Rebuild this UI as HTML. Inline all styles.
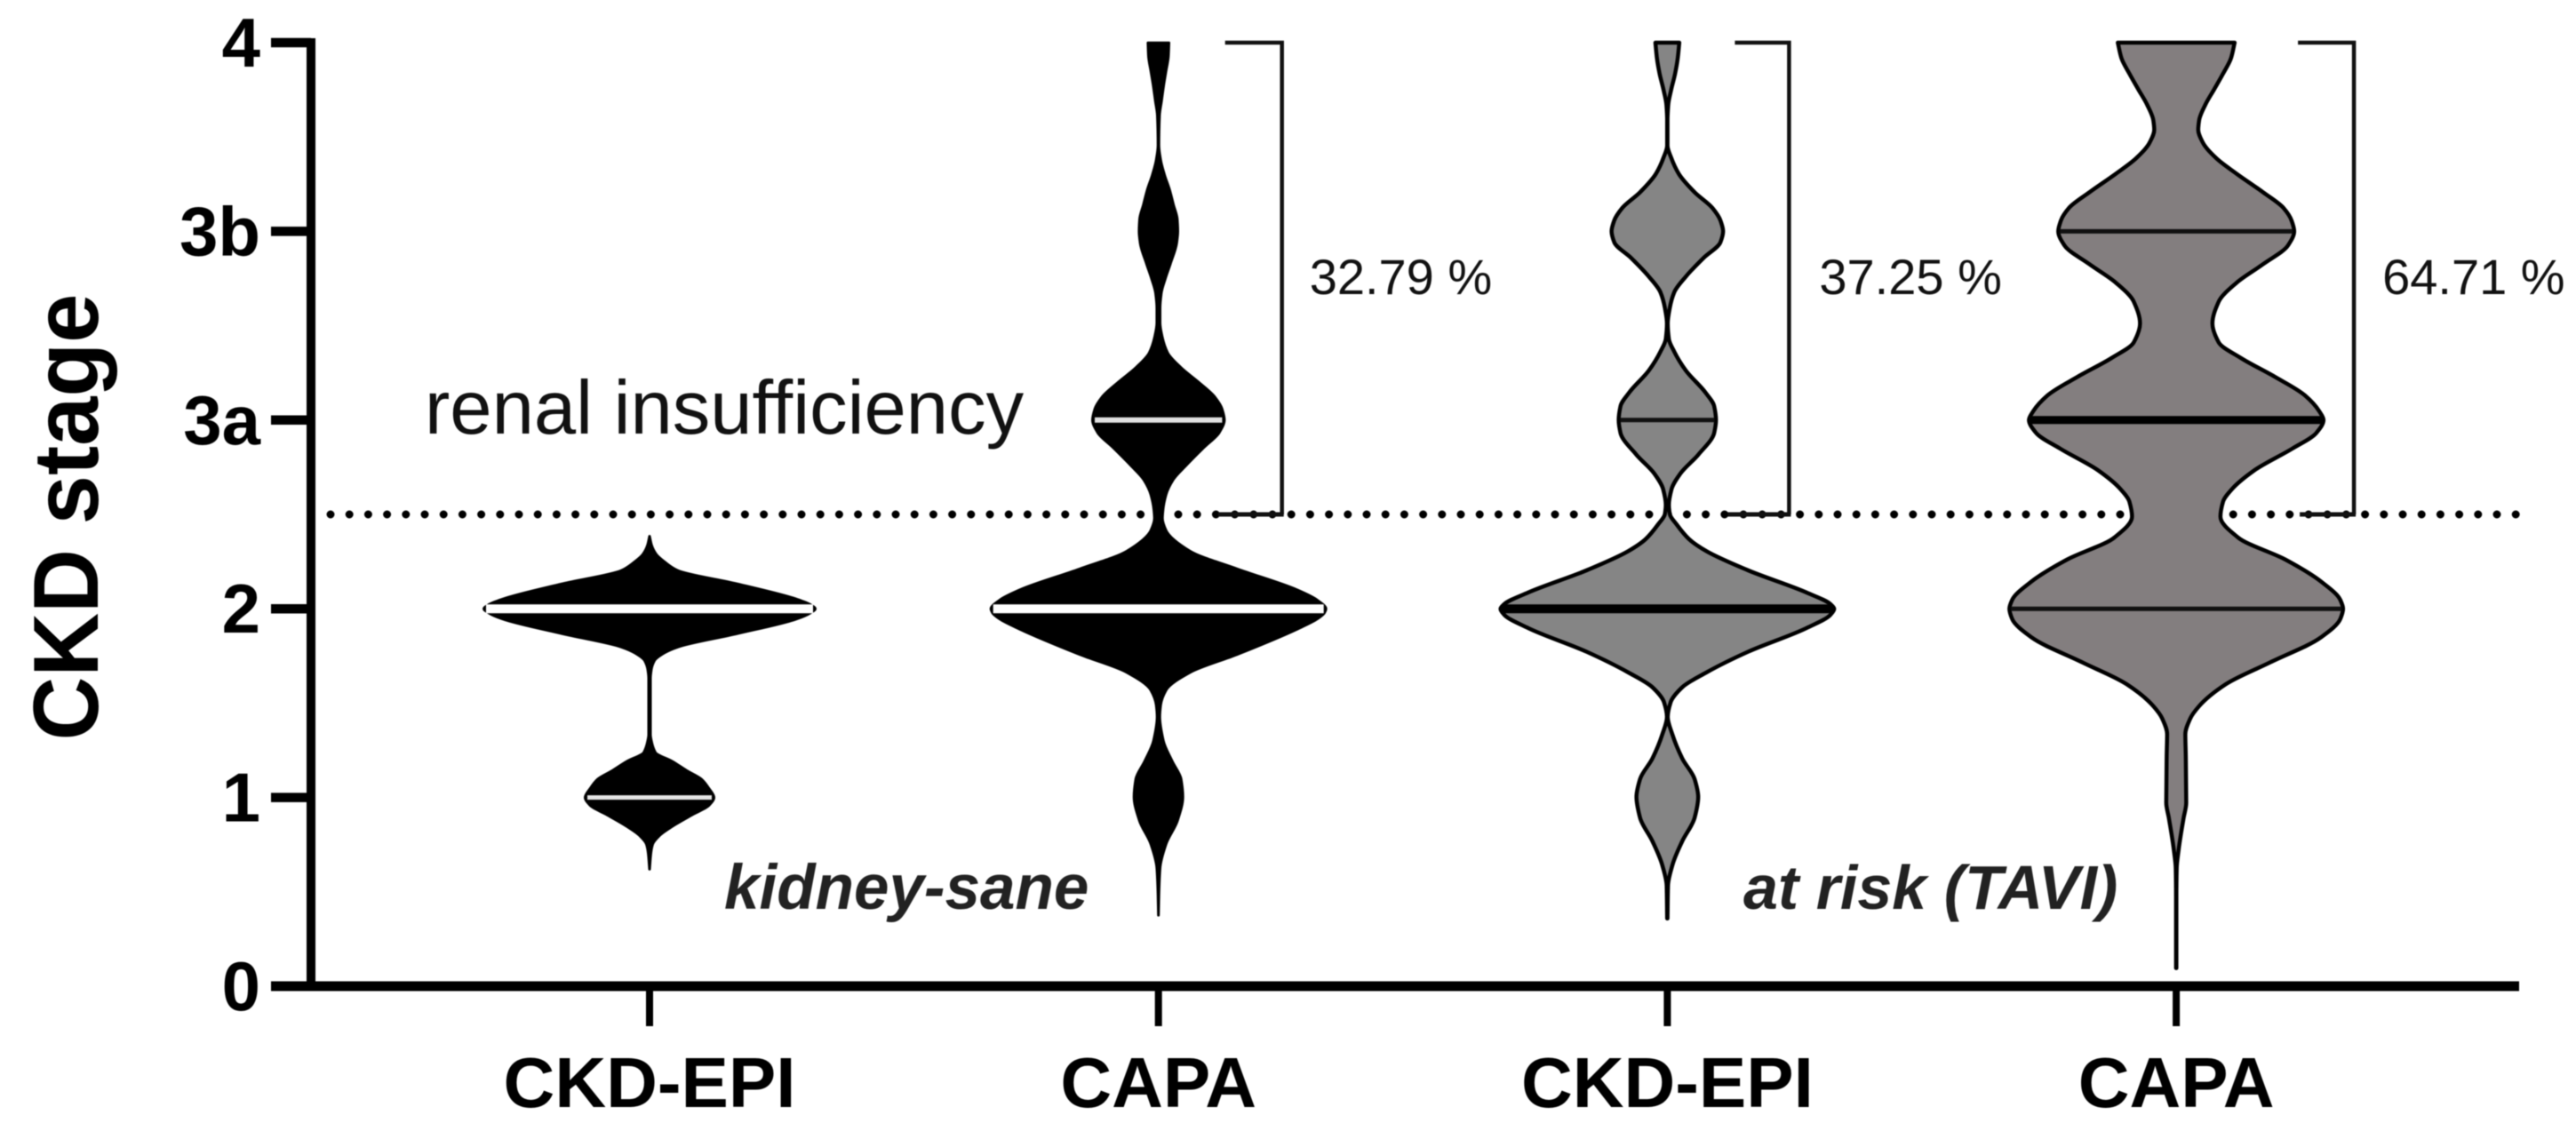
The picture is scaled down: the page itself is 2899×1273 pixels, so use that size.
<!DOCTYPE html>
<html lang="en">
<head>
<meta charset="utf-8">
<title>CKD stage violin chart</title>
<style>
html,body{margin:0;padding:0;background:#fff;width:2899px;height:1273px;overflow:hidden}
svg{display:block;filter:blur(0.6px)}
text{font-family:"Liberation Sans",Arial,sans-serif}
</style>
</head>
<body>
<svg id="chart" xmlns="http://www.w3.org/2000/svg" width="2899" height="1273" viewBox="0 0 2899 1273">
<rect x="0" y="0" width="2899" height="1273" fill="#fff"/>
<text transform="translate(110,582) rotate(-90)" text-anchor="middle" font-size="104" font-weight="700" textLength="503" lengthAdjust="spacingAndGlyphs">CKD stage</text>
<text x="478" y="488" font-size="85" fill="#111">renal insufficiency</text>
<text x="815" y="1023" font-size="71" font-weight="700" font-style="italic" fill="#222">kidney-sane</text>
<text x="1962" y="1023" font-size="70" font-weight="700" font-style="italic" fill="#222">at risk (TAVI)</text>
<g id="layer"></g>
</svg>
<script>
// ---- chart data ----
const categories = ["CKD-EPI", "CAPA", "CKD-EPI", "CAPA"];
const stageTickValues = [0, 1, 2, 3, 4, 5];
const stageTickLabels = ["0", "1", "2", "3a", "3b", "4"];
const cutoffStage = 2.5;
const percentLabels = ["32.79 %", "37.25 %", "64.71 %"];

const epiSaneStage = [2.385,2.338,2.29,2.243,2.204,2.133,2.052,2.024,2,1.976,1.945,1.867,1.796,1.765,1.725,1.678,1.631,1.333,1.301,1.239,1.192,1.144,1.097,1.05,1,0.956,0.909,0.846,0.799,0.752,0.705,0.619];
const epiSaneDensity = [1,3.7,8.8,20,33,100,167,182,188,182,167,100,33,18,7,3.5,2.5,2.5,3.5,8,27,43,60,68,74,68,50,27,13,5,3,1.5];

const capaSaneStage = [5,4.928,4.849,4.771,4.692,4.614,4.457,4.378,4.3,4.221,4.143,4.064,4,3.937,3.829,3.75,3.672,3.593,3.515,3.436,3.358,3.279,3.201,3.122,3.06,3,2.934,2.856,2.761,2.683,2.604,2.526,2.479,2.416,2.306,2.212,2.102,2.047,2,1.976,1.945,1.89,1.757,1.662,1.568,1.49,1.427,1.301,1.192,1.097,1.003,0.878,0.752,0.626,0.485,0.375];
const capaSaneDensity = [13.3,12.7,10,7.3,5,2.7,2,4,8.3,14,18.3,22.7,23.3,22,15,9.3,4.7,3.3,3.3,6,11.7,26.7,46.7,65,73,75.7,70,53,33,18,10,6.7,6,10,37,90,157,180,190,188,180,157,90,37,10,4,3,7,17,27,29,23,10,3.3,2,1.5];

const epiRiskStage = [5,4.919,4.836,4.753,4.671,4.588,4.455,4.389,4.306,4.207,4.124,4.058,4,3.942,3.859,3.76,3.677,3.594,3.512,3.429,3.363,3.263,3.147,3.073,3,2.932,2.816,2.717,2.634,2.551,2.502,2.447,2.369,2.306,2.204,2.086,2.024,2,1.969,1.898,1.772,1.662,1.584,1.505,1.427,1.333,1.207,1.097,1.003,0.893,0.768,0.642,0.532,0.359];
const epiRiskDensity = [15.7,14,11,6.7,3.3,2.3,2.3,6.7,15,33,53,62,65,62,43,23,10,5,2.7,4,10,23,45,55,57,55,37,17,7,4,5,12.7,26.7,46,93,159,186,190,186,159,93,46,19,6,2.7,8,19,33,37,33,19,8,3,2];

const capaRiskStage = [5,4.919,4.836,4.753,4.671,4.588,4.538,4.472,4.389,4.306,4.207,4.124,4.058,4,3.925,3.826,3.727,3.627,3.512,3.412,3.329,3.23,3.131,3.048,3,2.932,2.849,2.733,2.634,2.568,2.488,2.377,2.261,2.145,2.046,2,1.947,1.848,1.716,1.6,1.484,1.418,1.336,1.22,0.972,0.89,0.724,0.625,0.476,0.22,0.096];
const capaRiskDensity = [68,64,55,45,35,28,27,32,47,70,100,123,132,135,128,100,70,50,43,50,75,113,147,163,168,160,133,90,65,55,52,72,125,165,187,190,187,165,108,58,28,18,12.5,13,13.5,10.5,5,2.8,2,1.5,1.2];

const medianStages = [[2, 1], [3, 2], [3, 2], [4, 3, 2]];

// ---- scales and layout ----
const svgNS = "http://www.w3.org/2000/svg";
const layer = document.getElementById("layer");
function xScale(i) { return 731 + i * 572.7; }
function yScale(v) { return 1110 - v * 212.4; }
function halfWidth(d, inset) { return Math.max(0.2, d - inset); }

function make(tag, attrs, text) {
  const el = document.createElementNS(svgNS, tag);
  for (const k in attrs) el.setAttribute(k, attrs[k]);
  if (text !== undefined) el.textContent = text;
  layer.appendChild(el);
  return el;
}

// Monotone cubic tangents of half-width as a function of pixel y.
function tangents(ys, hs) {
  const n = ys.length, d = [], m = new Array(n).fill(0);
  for (let i = 0; i < n - 1; i++) d.push((hs[i + 1] - hs[i]) / (ys[i + 1] - ys[i]));
  m[0] = d[0];
  m[n - 1] = d[n - 2];
  for (let i = 1; i < n - 1; i++) {
    if (d[i - 1] * d[i] <= 0) { m[i] = 0; continue; }
    const h0 = ys[i] - ys[i - 1], h1 = ys[i + 1] - ys[i];
    const w1 = 2 * h1 + h0, w2 = h1 + 2 * h0;
    m[i] = (w1 + w2) / (w1 / d[i - 1] + w2 / d[i]);
  }
  return m;
}

function violinPath(i, stages, density, inset) {
  const cx = xScale(i);
  const ys = stages.map(yScale);
  const hs = density.map(d => halfWidth(d, inset));
  const m = tangents(ys, hs);
  const f = n => n.toFixed(2);
  let path = "M" + f(cx + hs[0]) + " " + f(ys[0]);
  for (let k = 0; k < ys.length - 1; k++) {
    const dy = (ys[k + 1] - ys[k]) / 3;
    path += "C" + f(cx + hs[k] + m[k] * dy) + " " + f(ys[k] + dy) + " " + f(cx + hs[k + 1] - m[k + 1] * dy) + " " + f(ys[k + 1] - dy) + " " + f(cx + hs[k + 1]) + " " + f(ys[k + 1]);
  }
  path += "L" + f(cx - hs[ys.length - 1]) + " " + f(ys[ys.length - 1]);
  for (let k = ys.length - 1; k > 0; k--) {
    const dy = (ys[k] - ys[k - 1]) / 3;
    path += "C" + f(cx - hs[k] + m[k] * dy) + " " + f(ys[k] - dy) + " " + f(cx - hs[k - 1] - m[k - 1] * dy) + " " + f(ys[k - 1] + dy) + " " + f(cx - hs[k - 1]) + " " + f(ys[k - 1]);
  }
  return path + "Z";
}

function densityAt(stages, density, v) {
  for (let k = 0; k < stages.length - 1; k++) {
    if (v <= stages[k] && v >= stages[k + 1]) {
      const t = (stages[k] - v) / (stages[k] - stages[k + 1]);
      return density[k] + t * (density[k + 1] - density[k]);
    }
  }
  return 0;
}

// ---- cutoff dotted line ----
const cutoff = make("line", {x1: 372, x2: 2835, y1: yScale(cutoffStage), y2: yScale(cutoffStage), stroke: "#000", "stroke-width": 9, "stroke-linecap": "round", "stroke-dasharray": "0 21.2"});



// ---- violins ----
const violinStages = [epiSaneStage, capaSaneStage, epiRiskStage, capaRiskStage];
const violinDensities = [epiSaneDensity, capaSaneDensity, epiRiskDensity, capaRiskDensity];
const violinFills = ["#000", "#000", "#858585", "#837e7f"];
const violinStrokes = [2.5, 2.5, 4.5, 4.5];
const medianColors = [["#fff", "#e4e4e4"], ["#e0e0e0", "#fff"], ["#111", "#000"], ["#111", "#000", "#111"]];
const medianWidths = [[10, 5], [6, 10], [5, 10], [5, 9, 5]];
violinStages.forEach((stages, i) => {
  const inset = violinStrokes[i] / 2;
  const v = make("path", {d: violinPath(i, stages, violinDensities[i], inset), fill: violinFills[i], stroke: "#000", "stroke-width": violinStrokes[i], "stroke-linejoin": "round"});
  
  
  medianStages[i].forEach((m, j) => {
    const h = densityAt(stages, violinDensities[i], m) - 4;
    const line = make("line", {x1: xScale(i) - h, x2: xScale(i) + h, y1: yScale(m), y2: yScale(m), stroke: medianColors[i][j], "stroke-width": medianWidths[i][j]});
    
    
  });
});

// ---- brackets with percentages ----
const bracketGroups = [1, 2, 3];
const bracketSpineOffset = [139, 137, 200];
const bracketTopArm = [64, 61, 63];
const bracketBottomArm = [72, 69, 61];
const bracketLabelOffset = [170, 171, 232];
bracketGroups.forEach((g, i) => {
  const sx = xScale(g) + bracketSpineOffset[i];
  const yTop = yScale(stageTickValues[stageTickValues.length - 1]);
  const yBottom = yScale(cutoffStage);
  const spine = make("path", {d: "M" + (sx - bracketTopArm[i]) + " " + yTop + "H" + sx + "V" + yBottom, fill: "none", stroke: "#111", "stroke-width": 4.5});
  
  
  const foot = make("line", {x1: sx - bracketBottomArm[i], x2: sx + 2, y1: yBottom, y2: yBottom, stroke: "#111", "stroke-width": 5});
  
  
  const label = make("text", {x: xScale(g) + bracketLabelOffset[i], y: 331, "font-size": 56, fill: "#111"}, percentLabels[i]);
  
  
});

// ---- y axis ----
const yAxis = make("line", {x1: 350, x2: 350, y1: yScale(5) - 5, y2: yScale(0) + 5, stroke: "#000", "stroke-width": 10});


stageTickValues.forEach((v, i) => {
  const t = make("line", {x1: 305, x2: 350, y1: yScale(v), y2: yScale(v), stroke: "#000", "stroke-width": 10.5});
  
  
  const lbl = make("text", {x: 293, y: yScale(v) + 27, "text-anchor": "end", "font-size": 78, "font-weight": 700}, stageTickLabels[i]);
  
  
});

// ---- x axis ----
const xAxis = make("line", {x1: 305, x2: 2835, y1: yScale(0), y2: yScale(0), stroke: "#000", "stroke-width": 11});


categories.forEach((c, i) => {
  const t = make("line", {x1: xScale(i), x2: xScale(i), y1: yScale(0), y2: yScale(0) + 45, stroke: "#000", "stroke-width": 8});
  
  
  const lbl = make("text", {x: xScale(i), y: 1246, "text-anchor": "middle", "font-size": 80, "font-weight": 700}, c);
  
  
});
</script>
</body>
</html>
